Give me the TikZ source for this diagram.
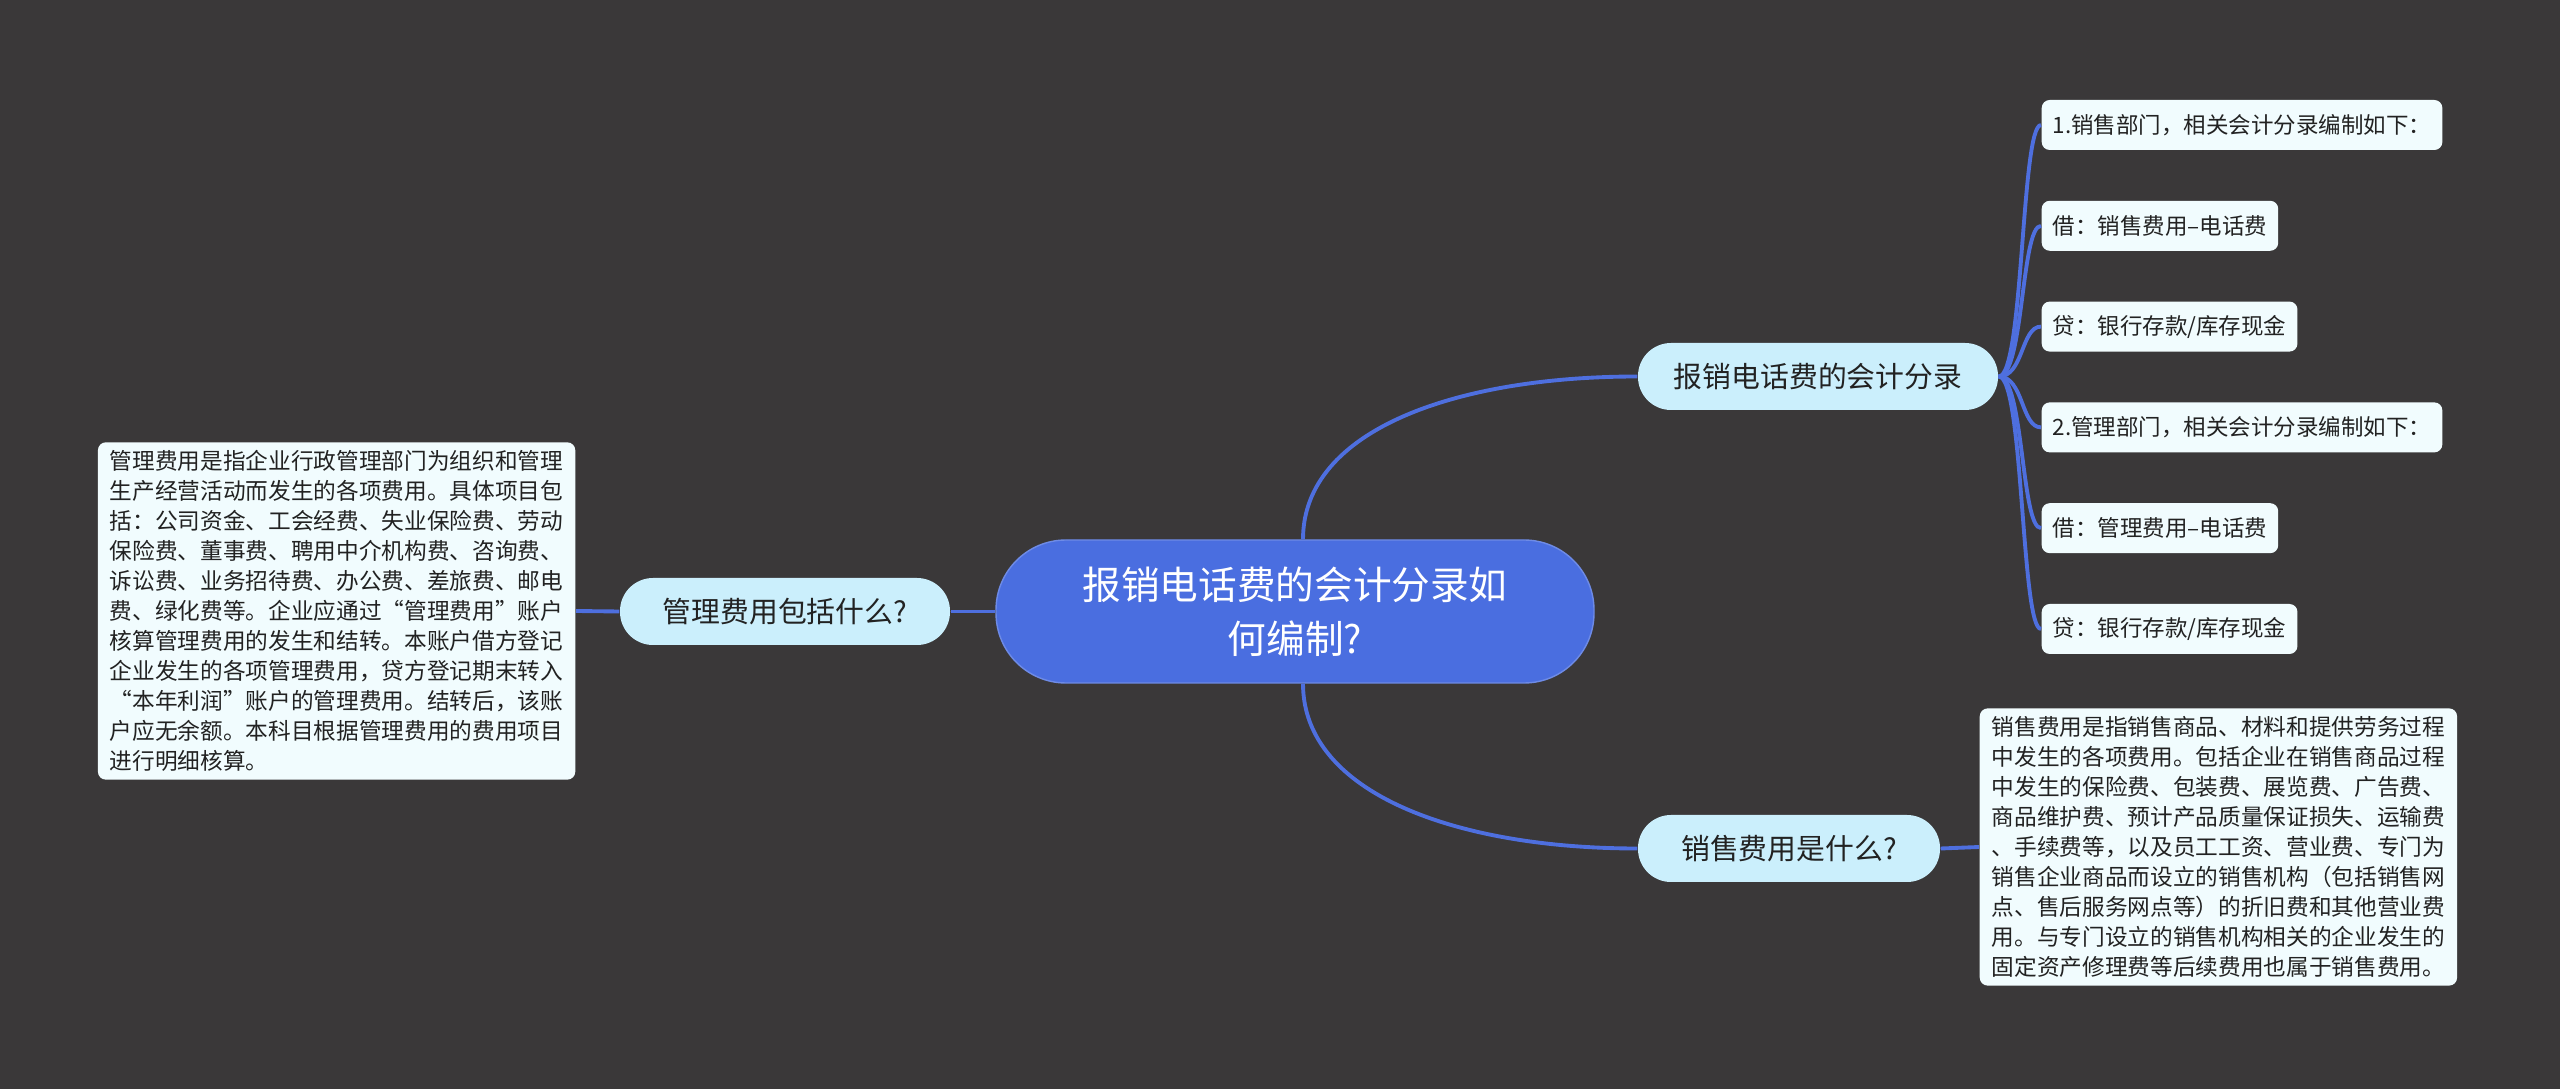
\documentclass[tikz,border=0pt]{standalone}
\usepackage{fontspec}
\setmainfont{Noto Sans CJK SC}
\usetikzlibrary{positioning, calc}
\definecolor{bgdark}{HTML}{3A3839}
\definecolor{linkblue}{HTML}{4E6FDF}
\definecolor{rootblue}{HTML}{4A6EE0}
\definecolor{topicfill}{HTML}{CBEFFC}
\definecolor{leaffill}{HTML}{F1FCFE}
\definecolor{inkdark}{HTML}{222222}

\begin{document}
\begin{tikzpicture}[
    root/.style={rectangle, rounded corners=0.70cm, fill=rootblue, draw=rootblue!80!white, text=white, minimum width=5.98cm, minimum height=1.43cm, align=center, font=\fontsize{11}{15.4}\selectfont},
    topic/.style={rectangle, rounded corners=0.33cm, fill=topicfill, text=inkdark, minimum height=0.67cm, font=\fontsize{8.2}{10}\selectfont},
    leaf/.style={rectangle, rounded corners=0.08cm, fill=leaffill, text=inkdark, minimum height=0.50cm, inner xsep=0.11cm, font=\fontsize{6.4}{8}\selectfont},
    memo/.style={rectangle, rounded corners=0.08cm, fill=leaffill, text=inkdark, align=left, inner xsep=0.12cm, inner ysep=0.08cm, font=\fontsize{6.45}{8.54}\selectfont},
    link/.style={draw=linkblue, line width=1.1pt},
]

\useasboundingbox[fill=bgdark] (0,0) rectangle (25.6,-10.89);

% centre and first level
\node[root] (root) at (12.95,-6.115) {报销电话费的会计分录如\\何编制?};
\node[topic, minimum width=3.30cm] (mgmt) at (7.85,-6.115) {管理费用包括什么?};
\node[topic, minimum width=3.60cm] (entry) at (18.18,-3.765) {报销电话费的会计分录};
\node[topic, minimum width=3.02cm] (sales) at (17.89,-8.485) {销售费用是什么?};

% explanations
\node[memo, anchor=east] (mgmtmemo) at (5.76,-6.11) {管理费用是指企业行政管理部门为组织和管理\\
生产经营活动而发生的各项费用。具体项目包\\
括：公司资金、工会经费、失业保险费、劳动\\
保险费、董事费、聘用中介机构费、咨询费、\\
诉讼费、业务招待费、办公费、差旅费、邮电\\
费、绿化费等。企业应通过“管理费用”账户\\
核算管理费用的发生和结转。本账户借方登记\\
企业发生的各项管理费用，贷方登记期末转入\\
“本年利润”账户的管理费用。结转后，该账\\
户应无余额。本科目根据管理费用的费用项目\\
进行明细核算。};
\node[memo, anchor=west] (salesmemo) at (19.79,-8.47) {销售费用是指销售商品、材料和提供劳务过程\\
中发生的各项费用。包括企业在销售商品过程\\
中发生的保险费、包装费、展览费、广告费、\\
商品维护费、预计产品质量保证损失、运输费\\
、手续费等，以及员工工资、营业费、专门为\\
销售企业商品而设立的销售机构（包括销售网\\
点、售后服务网点等）的折旧费和其他营业费\\
用。与专门设立的销售机构相关的企业发生的\\
固定资产修理费等后续费用也属于销售费用。};

% entries
\foreach \txt [count=\i] in {{1.销售部门，相关会计分录编制如下：}, {借：销售费用–电话费}, {贷：银行存款/库存现金}, {2.管理部门，相关会计分录编制如下：}, {借：管理费用–电话费}, {贷：银行存款/库存现金}} {
    \node[leaf, anchor=west] (leaf\i) at (20.41,{-1.25-(\i-1)*1.008}) {\txt};
    \draw[link] (entry.east) .. controls +(0.25,0) and +(-0.2,0) .. (leaf\i.west);
}

\draw[link] (root.west) -- (mgmt.east);
\draw[link] (mgmt.west) -- (mgmtmemo.east);
\draw[link] ($(root.north)+(0.08,0)$) .. controls +(0,1.1) and +(-1.8,0) .. (entry.west);
\draw[link] ($(root.south)+(0.08,0)$) .. controls +(0,-1.1) and +(-1.8,0) .. (sales.west);
\draw[link] (sales.east) -- (salesmemo.west);

\end{tikzpicture}
\end{document}
